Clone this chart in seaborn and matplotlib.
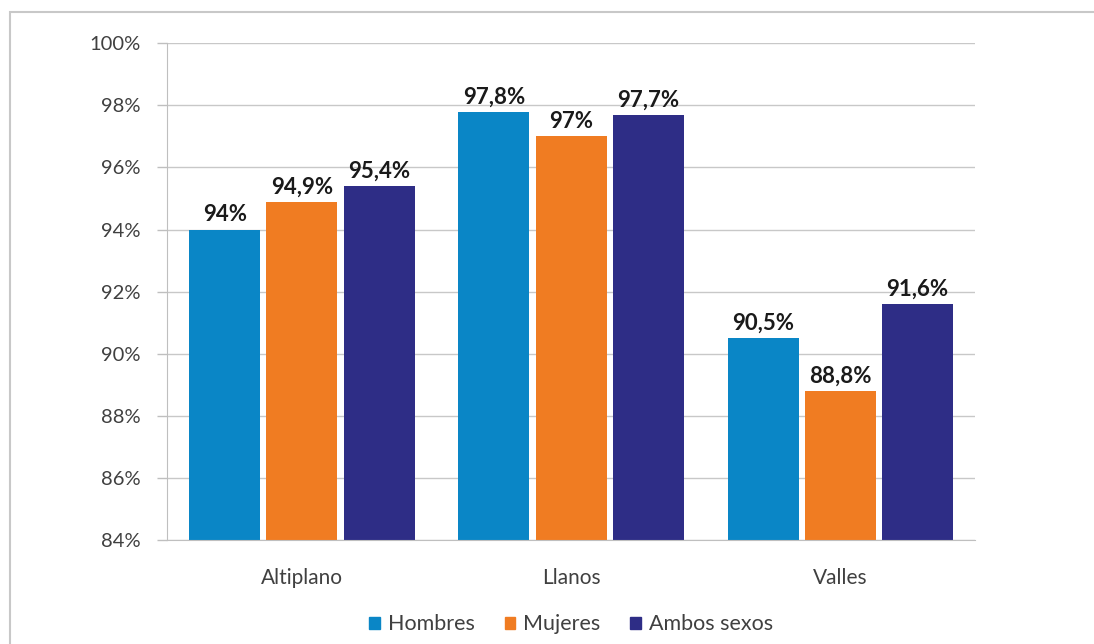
import matplotlib.pyplot as plt
import matplotlib.patches as mpatches
import seaborn as sns
import pandas as pd

# Values
regiones = ['Altiplano', 'Llanos', 'Valles']
hombres = [94.0, 97.8, 90.5]
mujeres = [94.9, 97.0, 88.8]
ambos = [95.4, 97.7, 91.6]
series = ['Hombres', 'Mujeres', 'Ambos sexos']
colores = ['#0a86c6', '#f07c22', '#2e2d86']
yticks = [84, 86, 88, 90, 92, 94, 96, 98, 100]

df = pd.DataFrame({
    'region': regiones * 3,
    'serie': [s for s in series for _ in regiones],
    'valor': hombres + mujeres + ambos,
})

sns.set_style('white')
plt.rcParams['font.family'] = ['Lato', 'DejaVu Sans']

fig = plt.figure(figsize=(10.94, 6.44), dpi=100)
ax = fig.add_axes([0.153, 0.161, 0.738, 0.772])

sns.barplot(data=df, x='region', y='valor', hue='serie', hue_order=series,
            palette=colores, width=0.86, gap=0.08, saturation=1,
            edgecolor='none', ax=ax)

ax.set_ylim(84, 100)
ax.set_xlim(-0.5, 2.5)
ax.set_yticks(yticks)
ax.set_yticklabels([f'{t}%' for t in yticks], fontsize=14.5, color='#404040')
ax.tick_params(axis='x', labelsize=15, labelcolor='#404040', length=0, pad=20)
ax.tick_params(axis='y', length=7, color='#bfbfbf', width=1, pad=12, left=True)
ax.set_xlabel('')
ax.set_ylabel('')
ax.grid(axis='y', color='#c8c8c8', linewidth=1)
ax.set_axisbelow(True)
for s in ['top', 'right']:
    ax.spines[s].set_visible(False)
ax.spines['left'].set_color('#bfbfbf')
ax.spines['bottom'].set_color('#bfbfbf')

# Data labels
def fmt(v):
    s = f'{v:.1f}'.replace('.', ',')
    if s.endswith(',0'):
        s = s[:-2]
    return s + '%'

for cont in ax.containers:
    ax.bar_label(cont, labels=[fmt(b.get_height()) for b in cont],
                 padding=3, fontsize=16, fontweight='bold', color='#1a1a1a')

handles = [mpatches.Patch(color=c, label=s) for c, s in zip(colores, series)]
ax.legend(handles=handles, loc='upper center', bbox_to_anchor=(0.5, -0.11),
          ncol=3, frameon=False, fontsize=15.5, handlelength=0.5,
          handleheight=0.5, handletextpad=0.35, columnspacing=1.4,
          labelcolor='#404040')

# Outer border (only left and top edges visible in the image)
fig.patches.append(mpatches.Rectangle((0.009, -0.05), 1.2, 1.031,
                                      transform=fig.transFigure,
                                      fill=False, edgecolor='#c8c8c8',
                                      linewidth=1.5))

fig.savefig('out.png', dpi=100)
